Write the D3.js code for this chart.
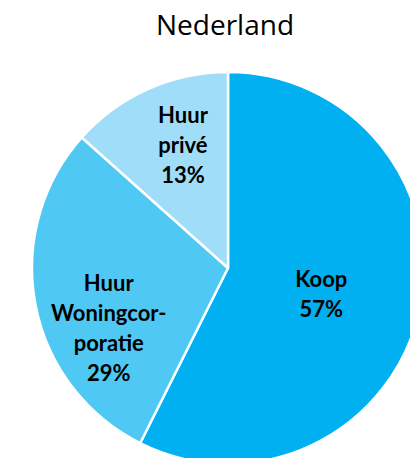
<!DOCTYPE html>
<html>
<head>
<meta charset="utf-8">
<script src="https://cdn.jsdelivr.net/npm/d3@7"></script>
<style>
  html, body { margin: 0; padding: 0; background: #fff; }
  svg { display: block; }
</style>
</head>
<body>
<div id="chart"></div>
<script>
// Woningvoorraad Nederland naar eigendom
const categories = ['Koop', 'Huur Woningcorporatie', 'Huur privé'];
const values = [57.4, 29.2, 13.4];
const labelLines = [
    ['Koop', '57%'],
    ['Huur', 'Woningcor-', 'poratie', '29%'],
    ['Huur', 'privé', '13%']
];
const colors = ['#00b0f0', '#4fc8f4', '#9fddf8'];

(function () {
    const width = 410, height = 458;
    const cx = 228, cy = 268, radius = 196;

    const svg = d3.select('#chart').append('svg')
        .attr('width', width).attr('height', height);

    // Title
    svg.append('text')
        .attr('x', 225).attr('y', 35)
        .attr('text-anchor', 'middle')
        .attr('font-family', '"Open Sans", sans-serif')
        .attr('font-size', '28px')
        .attr('fill', '#000')
        .text('Nederland');

    const data = categories.map((c, i) => ({ name: c, value: values[i], idx: i }));

    const pie = d3.pie().sort(null).value(d => d.value);
    const arcs = pie(data);
    const arc = d3.arc().innerRadius(0).outerRadius(radius);
    const labelArc = d3.arc().innerRadius(radius * 0.5).outerRadius(radius * 0.5);

    const g = svg.append('g').attr('transform', `translate(${cx},${cy})`);

    g.selectAll('path.slice').data(arcs).enter().append('path')
        .attr('class', 'slice')
        .attr('d', arc)
        .attr('fill', d => colors[d.data.idx])
        .attr('stroke', '#fff')
        .attr('stroke-width', 2.5)
        .attr('stroke-linejoin', 'round');

    // Labels (multi-line, centred around the slice's label point)
    const lineH = 30;
    const labelOffsets = [[-2, 4], [-23, 42], [-5, -33]];
    arcs.forEach(d => {
        const i = d.data.idx;
        const [lx, ly] = labelArc.centroid(d);
        const lines = labelLines[i];
        const x = lx + labelOffsets[i][0];
        const y0 = ly + labelOffsets[i][1] - (lines.length - 1) * lineH / 2;
        const t = g.append('text')
            .attr('text-anchor', 'middle')
            .attr('font-family', 'Lato, sans-serif')
            .attr('font-weight', 700)
            .attr('font-size', '22px')
            .attr('fill', '#000');
        lines.forEach((ln, k) => {
            t.append('tspan')
                .attr('x', x)
                .attr('y', y0 + k * lineH)
                .attr('dy', '0.35em')
                .text(ln);
        });
    });
})();
</script>
</body>
</html>
